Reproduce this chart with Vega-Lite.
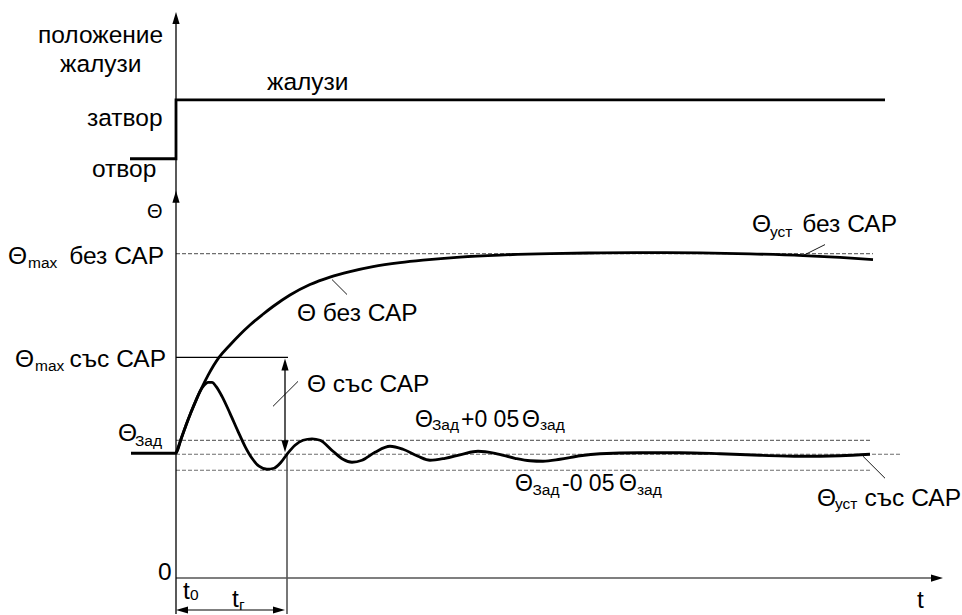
{
  "$schema": "https://vega.github.io/schema/vega-lite/v6.json",
  "width": 962,
  "height": 615,
  "padding": 0,
  "autosize": {"type": "fit", "contains": "padding"},
  "background": "white",
  "config": {"view": {"stroke": null}, "text": {"font": "Liberation Sans"}},
  "datasets": {
    "curves": [
      {"curve": "bez", "t": -4.5, "v": 12.5}, {"curve": "bez", "t": 0, "v": 12.5}, {"curve": "bez", "t": 0.5, "v": 13.9}, {"curve": "bez", "t": 1.0, "v": 15.3}, {"curve": "bez", "t": 1.5, "v": 16.6}, {"curve": "bez", "t": 2.0, "v": 17.8}, {"curve": "bez", "t": 2.5, "v": 18.9}, {"curve": "bez", "t": 3.2, "v": 20.3}, {"curve": "bez", "t": 4.3, "v": 22.1}, {"curve": "bez", "t": 5.4, "v": 23.35}, {"curve": "bez", "t": 6.4, "v": 24.4}, {"curve": "bez", "t": 7.4, "v": 25.35}, {"curve": "bez", "t": 8.6, "v": 26.35}, {"curve": "bez", "t": 9.7, "v": 27.2}, {"curve": "bez", "t": 11.4, "v": 28.35}, {"curve": "bez", "t": 13.4, "v": 29.4}, {"curve": "bez", "t": 15.4, "v": 30.15}, {"curve": "bez", "t": 17.4, "v": 30.7}, {"curve": "bez", "t": 19.7, "v": 31.2}, {"curve": "bez", "t": 22.4, "v": 31.6}, {"curve": "bez", "t": 24.7, "v": 31.85}, {"curve": "bez", "t": 28.4, "v": 32.15}, {"curve": "bez", "t": 32.4, "v": 32.35}, {"curve": "bez", "t": 37.4, "v": 32.5}, {"curve": "bez", "t": 42.4, "v": 32.57}, {"curve": "bez", "t": 47.4, "v": 32.6}, {"curve": "bez", "t": 52.4, "v": 32.57}, {"curve": "bez", "t": 57.4, "v": 32.47}, {"curve": "bez", "t": 62.7, "v": 32.3}, {"curve": "bez", "t": 66.4, "v": 32.12}, {"curve": "bez", "t": 69.7, "v": 31.9},
      {"curve": "sys", "t": 0, "v": 12.5}, {"curve": "sys", "t": 0.5, "v": 13.9}, {"curve": "sys", "t": 1.0, "v": 15.3}, {"curve": "sys", "t": 1.5, "v": 16.6}, {"curve": "sys", "t": 2.0, "v": 17.8}, {"curve": "sys", "t": 2.4, "v": 18.7}, {"curve": "sys", "t": 2.8, "v": 19.3}, {"curve": "sys", "t": 3.2, "v": 19.6}, {"curve": "sys", "t": 3.6, "v": 19.6}, {"curve": "sys", "t": 4.0, "v": 19.2}, {"curve": "sys", "t": 4.6, "v": 18.2}, {"curve": "sys", "t": 5.4, "v": 16.5}, {"curve": "sys", "t": 6.2, "v": 14.7}, {"curve": "sys", "t": 6.9, "v": 13.2}, {"curve": "sys", "t": 7.6, "v": 12.0}, {"curve": "sys", "t": 8.3, "v": 11.2}, {"curve": "sys", "t": 9.1, "v": 10.9}, {"curve": "sys", "t": 9.8, "v": 11.0}, {"curve": "sys", "t": 10.5, "v": 11.6}, {"curve": "sys", "t": 11.1, "v": 12.4}, {"curve": "sys", "t": 11.9, "v": 13.3}, {"curve": "sys", "t": 12.7, "v": 13.8}, {"curve": "sys", "t": 13.6, "v": 13.95}, {"curve": "sys", "t": 14.4, "v": 13.8}, {"curve": "sys", "t": 15.7, "v": 12.7}, {"curve": "sys", "t": 16.7, "v": 11.9}, {"curve": "sys", "t": 17.6, "v": 11.6}, {"curve": "sys", "t": 18.6, "v": 11.8}, {"curve": "sys", "t": 19.9, "v": 12.6}, {"curve": "sys", "t": 21.4, "v": 13.2}, {"curve": "sys", "t": 22.7, "v": 12.9}, {"curve": "sys", "t": 24.2, "v": 12.2}, {"curve": "sys", "t": 25.4, "v": 11.8}, {"curve": "sys", "t": 26.9, "v": 12.0}, {"curve": "sys", "t": 28.6, "v": 12.4}, {"curve": "sys", "t": 30.2, "v": 12.7}, {"curve": "sys", "t": 31.9, "v": 12.5}, {"curve": "sys", "t": 33.9, "v": 12.0}, {"curve": "sys", "t": 35.4, "v": 11.75}, {"curve": "sys", "t": 36.7, "v": 11.7}, {"curve": "sys", "t": 38.4, "v": 11.9}, {"curve": "sys", "t": 40.4, "v": 12.25}, {"curve": "sys", "t": 42.4, "v": 12.45}, {"curve": "sys", "t": 46.4, "v": 12.55}, {"curve": "sys", "t": 50.4, "v": 12.55}, {"curve": "sys", "t": 54.4, "v": 12.45}, {"curve": "sys", "t": 58.4, "v": 12.3}, {"curve": "sys", "t": 62.4, "v": 12.2}, {"curve": "sys", "t": 66.4, "v": 12.25}, {"curve": "sys", "t": 69.4, "v": 12.4}
    ],
    "step": [
      {"i": 1, "t": -4.6, "v": 42.0}, {"i": 2, "t": 0, "v": 42.0}, {"i": 3, "t": 0, "v": 47.9}, {"i": 4, "t": 70.9, "v": 47.9}
    ],
    "segs": [
      {"kind": "axis", "t": 0, "v": -3.6, "t2": 0, "v2": 56.4},
      {"kind": "thin", "t": 0, "v": 22.1, "t2": 11.2, "v2": 22.1},
      {"kind": "thin", "t": 10.9, "v": 21.5, "t2": 10.9, "v2": 13.0},
      {"kind": "pointer", "t": 15.6, "v": 29.9, "t2": 17.1, "v2": 28.4},
      {"kind": "pointer", "t": 9.7, "v": 17.2, "t2": 12.2, "v2": 19.7},
      {"kind": "pointer", "t": 62.7, "v": 32.3, "t2": 64.9, "v2": 33.4},
      {"kind": "pointer", "t": 68.7, "v": 12.2, "t2": 70.9, "v2": 10.0},
      {"kind": "gray", "t": 0, "v": 0, "t2": 76.0, "v2": 0},
      {"kind": "gray", "t": 11.1, "v": 12.4, "t2": 11.1, "v2": -3.6},
      {"kind": "gray", "t": 0.5, "v": -3.2, "t2": 10.4, "v2": -3.2},
      {"kind": "dash", "t": 0, "v": 32.5, "t2": 69.7, "v2": 32.5},
      {"kind": "dash", "t": 0, "v": 13.8, "t2": 69.4, "v2": 13.8},
      {"kind": "dash", "t": 0, "v": 12.4, "t2": 72.6, "v2": 12.4},
      {"kind": "dash", "t": 0, "v": 10.8, "t2": 69.4, "v2": 10.8}
    ],
    "arrows": [
      {"dir": "up", "t": 0, "v": 56.7},
      {"dir": "up", "t": 0, "v": 38.8},
      {"dir": "right", "t": 76.7, "v": 0},
      {"dir": "up", "t": 10.9, "v": 22.0},
      {"dir": "down", "t": 10.9, "v": 12.6},
      {"dir": "left", "t": 0, "v": -3.2},
      {"dir": "right", "t": 10.9, "v": -3.2}
    ],
    "labels": [
      {"text": "положение", "t": -13.8, "v": 53.6},
      {"text": "жалузи", "t": -11.6, "v": 50.7},
      {"text": "затвор", "t": -8.9, "v": 45.3},
      {"text": "отвор", "t": -8.4, "v": 40.2},
      {"text": "жалузи", "t": 9.1, "v": 48.9},
      {"text": "Θ", "t": -16.8, "v": 31.5},
      {"text": "Θ", "t": -16.1, "v": 21.1},
      {"text": "Θ", "t": -5.8, "v": 13.7},
      {"text": "Θ без САР", "t": 12.1, "v": 25.7},
      {"text": "Θ със САР", "t": 13.1, "v": 18.6},
      {"text": "Θ", "t": 57.6, "v": 34.7},
      {"text": "Θ", "t": 64.1, "v": 7.2},
      {"text": "0", "t": -1.8, "v": -0.2},
      {"text": "t", "t": 0.7, "v": -2.1},
      {"text": "t", "t": 5.6, "v": -2.9},
      {"text": "t", "t": 74.1, "v": -3.0}
    ],
    "labelsRight": [
      {"text": "без САР", "t": -1.2, "v": 31.5},
      {"text": "със САР", "t": -1.0, "v": 21.1},
      {"text": "без САР", "t": 72.1, "v": 34.7},
      {"text": "със САР", "t": 78.5, "v": 7.2}
    ],
    "axisTitle": [
      {"text": "Θ", "t": -2.9, "v": 36.1}
    ],
    "labelsMid": [
      {"text": "Θ", "t": 23.9, "v": 15.1},
      {"text": "+0 05", "t": 28.5, "v": 15.1},
      {"text": "Θ", "t": 34.6, "v": 15.1},
      {"text": "Θ", "t": 33.9, "v": 8.7},
      {"text": "-0 05", "t": 38.6, "v": 8.7},
      {"text": "Θ", "t": 44.3, "v": 8.7}
    ],
    "subs": [
      {"text": "max", "t": -14.8, "v": 31.1},
      {"text": "max", "t": -14.1, "v": 20.7},
      {"text": "Зад", "t": -4.1, "v": 13.2},
      {"text": "уст", "t": 59.4, "v": 34.2},
      {"text": "уст", "t": 65.9, "v": 6.9},
      {"text": "Зад", "t": 25.6, "v": 14.8},
      {"text": "зад", "t": 36.4, "v": 14.8},
      {"text": "Зад", "t": 35.65, "v": 8.3},
      {"text": "зад", "t": 46.1, "v": 8.3},
      {"text": "0", "t": 1.4, "v": -2.2},
      {"text": "г", "t": 6.3, "v": -3.2}
    ]
  },
  "encoding": {
    "x": {"field": "t", "type": "quantitative", "scale": {"domain": [-17.6, 78.6], "nice": false, "zero": false}, "axis": null},
    "y": {"field": "v", "type": "quantitative", "scale": {"domain": [-3.6, 57.9], "nice": false, "zero": false}, "axis": null}
  },
  "layer": [
    {
      "data": {"name": "segs"},
      "transform": [{"filter": "datum.kind === 'dash'"}],
      "mark": {"type": "rule", "color": "#6e6e6e", "strokeWidth": 1.2, "strokeDash": [4, 2]},
      "encoding": {"x2": {"field": "t2"}, "y2": {"field": "v2"}}
    },
    {
      "data": {"name": "segs"},
      "transform": [{"filter": "datum.kind === 'gray'"}],
      "mark": {"type": "rule", "color": "#555555", "strokeWidth": 1.6},
      "encoding": {"x2": {"field": "t2"}, "y2": {"field": "v2"}}
    },
    {
      "data": {"name": "segs"},
      "transform": [{"filter": "datum.kind === 'axis' || datum.kind === 'thin'"}],
      "mark": {"type": "rule", "color": "#000000", "strokeWidth": 1.3},
      "encoding": {"x2": {"field": "t2"}, "y2": {"field": "v2"}}
    },
    {
      "data": {"name": "segs"},
      "transform": [{"filter": "datum.kind === 'pointer'"}],
      "mark": {"type": "rule", "color": "#000000", "strokeWidth": 0.9},
      "encoding": {"x2": {"field": "t2"}, "y2": {"field": "v2"}}
    },
    {
      "data": {"name": "step"},
      "mark": {"type": "line", "color": "#000000", "strokeWidth": 2.8, "strokeJoin": "miter"},
      "encoding": {"order": {"field": "i", "type": "quantitative"}}
    },
    {
      "data": {"name": "curves"},
      "mark": {"type": "line", "color": "#000000", "strokeWidth": 2.8, "interpolate": "monotone"},
      "encoding": {"detail": {"field": "curve", "type": "nominal"}}
    },
    {
      "data": {"name": "arrows"},
      "mark": {"type": "point", "filled": true, "color": "#000000", "opacity": 1, "size": 144, "strokeWidth": 0},
      "encoding": {
        "shape": {"field": "dir", "type": "nominal", "legend": null, "scale": {"domain": ["up", "down", "left", "right"], "range": ["M0,0L0.6,2L-0.6,2Z", "M0,0L0.6,-2L-0.6,-2Z", "M0,0L2,0.6L2,-0.6Z", "M0,0L-2,0.6L-2,-0.6Z"]}}
      }
    },
    {
      "data": {"name": "labels"},
      "mark": {"type": "text", "align": "left", "baseline": "alphabetic", "fontSize": 24.5, "color": "#000000"},
      "encoding": {"text": {"field": "text", "type": "nominal"}}
    },
    {
      "data": {"name": "labelsRight"},
      "mark": {"type": "text", "align": "right", "baseline": "alphabetic", "fontSize": 24.5, "color": "#000000"},
      "encoding": {"text": {"field": "text", "type": "nominal"}}
    },
    {
      "data": {"name": "axisTitle"},
      "mark": {"type": "text", "align": "left", "baseline": "alphabetic", "fontSize": 20, "color": "#000000"},
      "encoding": {"text": {"field": "text", "type": "nominal"}}
    },
    {
      "data": {"name": "labelsMid"},
      "mark": {"type": "text", "align": "left", "baseline": "alphabetic", "fontSize": 23, "color": "#000000"},
      "encoding": {"text": {"field": "text", "type": "nominal"}}
    },
    {
      "data": {"name": "subs"},
      "mark": {"type": "text", "align": "left", "baseline": "alphabetic", "fontSize": 15.5, "color": "#000000"},
      "encoding": {"text": {"field": "text", "type": "nominal"}}
    }
  ]
}
